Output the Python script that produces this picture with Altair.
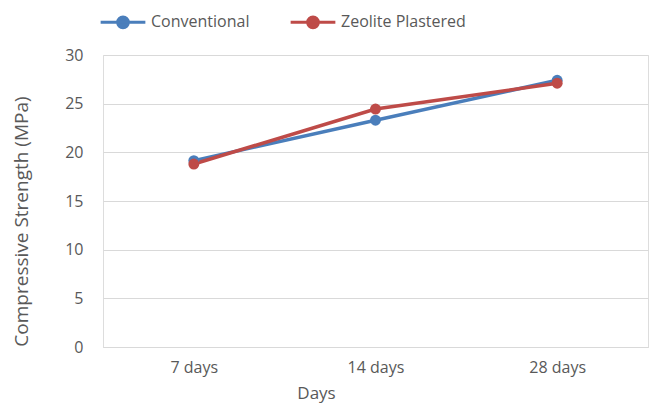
import altair as alt
import pandas as pd

categories = ["7 days", "14 days", "28 days"]
conventional = [19.15, 23.3, 27.4]
zeolite = [18.8, 24.45, 27.1]
series_names = ["Conventional", "Zeolite Plastered"]
colors = ["#4A7EBB", "#BE4B48"]

rows = []
for c, v in zip(categories, conventional):
    rows.append({"Days": c, "value": v, "series": series_names[0]})
for c, v in zip(categories, zeolite):
    rows.append({"Days": c, "value": v, "series": series_names[1]})
df = pd.DataFrame(rows)

FONT = "Open Sans"
GREY = "#595959"

legend_path = "M-1,0L1,0M0.24,0A0.24,0.24,0,1,1,-0.24,0A0.24,0.24,0,1,1,0.24,0Z"

color_scale = alt.Scale(domain=series_names, range=colors)

color_enc = alt.Color(
    "series:N",
    scale=color_scale,
    legend=alt.Legend(
        title=None,
        orient="none",
        legendX=-4,
        legendY=-57,
        direction="horizontal",
        symbolType=legend_path,
        symbolSize=2000,
        symbolStrokeWidth=3,
        labelFont=FONT,
        labelFontSize=16,
        labelColor=GREY,
        columnPadding=34,
        labelOffset=4,
    ),
)

x_enc = alt.X(
    "Days:N",
    sort=categories,
    scale=alt.Scale(paddingInner=0, paddingOuter=0.5),
    axis=alt.Axis(
        title="Days",
        labelAngle=0,
        labelFont=FONT,
        labelFontSize=16,
        labelColor=GREY,
        labelPadding=12,
        titleFont=FONT,
        titleFontSize=17,
        titleFontWeight="normal",
        titleColor=GREY,
        titleX=213,
        titleY=46,
        titleBaseline="middle",
        domainColor="#D9D9D9",
        ticks=False,
        grid=False,
    ),
)

y_enc = alt.Y(
    "value:Q",
    scale=alt.Scale(domain=[0, 30]),
    axis=alt.Axis(
        title="Compressive Strength (MPa)",
        values=[0, 5, 10, 15, 20, 25, 30],
        labelFont=FONT,
        labelFontSize=16,
        labelColor=GREY,
        labelPadding=20,
        titleFont=FONT,
        titleFontSize=19,
        titleFontWeight="normal",
        titleColor=GREY,
        titleX=-82,
        titleY=166,
        titleAngle=-90,
        titleBaseline="middle",
        domain=False,
        ticks=False,
        gridColor="#D9D9D9",
        gridWidth=1,
    ),
)

lines = alt.Chart(df).mark_line(strokeWidth=3.5).encode(
    x=x_enc, y=y_enc, color=color_enc
)
points = alt.Chart(df).mark_circle(size=120, opacity=1).encode(
    x=alt.X("Days:N", sort=categories),
    y="value:Q",
    color=alt.Color("series:N", legend=None, scale=color_scale),
)

chart = alt.layer(lines, points).properties(
    width=545,
    height=292,
    autosize=alt.AutoSizeParams(type="none"),
    padding={"left": 103, "top": 55, "right": 3, "bottom": 58},
).configure_view(stroke=None).configure(background="white")

chart.save("out.html", embed_options={"renderer": "svg", "actions": False})
